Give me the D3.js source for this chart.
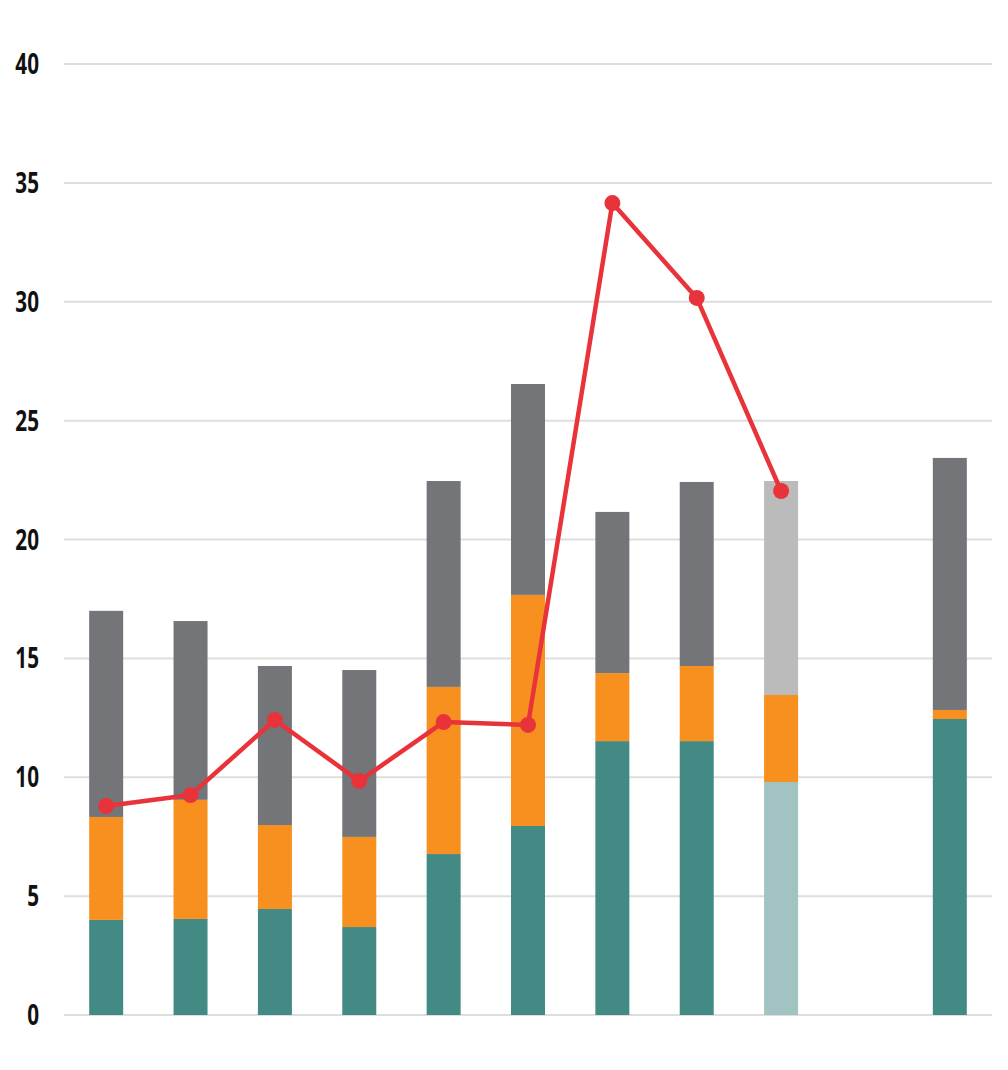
<!DOCTYPE html>
<html>
<head>
<meta charset="utf-8">
<script src="https://cdn.jsdelivr.net/npm/d3@7"></script>
<style>
  html, body { margin: 0; padding: 0; background: #ffffff; }
  svg { display: block; }
</style>
</head>
<body>
<svg id="chart" width="1008" height="1070"></svg>
<script>
// ---- data ----
const categories = ["1","2","3","4","5","6","7","8","9","10","11"];
const teal   = [4.0, 4.04, 4.46, 3.7, 6.77, 7.95, 11.52, 11.52, 9.8, null, 12.45];
const orange = [4.33, 5.01, 3.53, 3.79, 7.03, 9.72, 2.86, 3.16, 3.66, null, 0.38];
const gray   = [8.67, 7.52, 6.69, 7.02, 8.66, 8.87, 6.78, 7.74, 9.0, null, 10.6];
const projected = [false,false,false,false,false,false,false,false,true,false,false];
const lineValues = [8.79, 9.25, 12.41, 9.84, 12.32, 12.2, 34.15, 30.16, 22.04, null, null];
const yTicks = [0, 5, 10, 15, 20, 25, 30, 35, 40];

// ---- layout ----
const svg = d3.select("#chart");
const x = d3.scaleBand().domain(categories).range([64, 992]).paddingInner(0.597).paddingOuter(0.2985);
const y = d3.scaleLinear().domain([0, 40]).range([1015, 64]);

const colors = {
  teal: "#438a84", orange: "#f7901e", gray: "#737578",
  tealLight: "#a1c4c2", orangeLight: "#f7901e", grayLight: "#bbbbbb"
};

// gridlines
svg.append("g")
  .selectAll("line").data(yTicks).join("line")
  .attr("x1", 64).attr("x2", 992)
  .attr("y1", d => y(d)).attr("y2", d => y(d))
  .attr("stroke", "#dedede").attr("stroke-width", 2);

// y axis labels (condensed look via horizontal scale)
svg.append("g")
  .selectAll("g").data(yTicks).join("g")
  .attr("transform", d => `translate(39,${y(d) + 10}) scale(0.74,1)`)
  .append("text")
  .attr("text-anchor", "end")
  .attr("font-family", "'Open Sans', 'Noto Sans', sans-serif")
  .attr("font-weight", "bold")
  .attr("font-size", 28)
  .attr("fill", "#111")
  .text(d => d);

// stacked bars
const rows = categories.map((c, i) => ({cat: c, teal: teal[i], orange: orange[i], gray: gray[i], proj: projected[i]}))
  .filter(r => r.teal != null);
const stack = d3.stack().keys(["teal", "orange", "gray"]);
const series = stack(rows);

svg.append("g").selectAll("g").data(series).join("g")
  .each(function(s) {
    d3.select(this).selectAll("rect").data(s).join("rect")
      .attr("x", d => x(d.data.cat))
      .attr("width", x.bandwidth())
      .attr("y", d => y(d[1]))
      .attr("height", d => y(d[0]) - y(d[1]))
      .attr("fill", d => d.data.proj ? colors[s.key + "Light"] : colors[s.key]);
  });

// line
const pts = categories.map((c, i) => ({cat: c, v: lineValues[i]})).filter(p => p.v != null);
const line = d3.line().x(d => x(d.cat) + x.bandwidth() / 2).y(d => y(d.v));
svg.append("path").datum(pts)
  .attr("d", line)
  .attr("fill", "none")
  .attr("stroke", "#e8333a")
  .attr("stroke-width", 4.5)
  .attr("stroke-linejoin", "round");
svg.append("g").selectAll("circle").data(pts).join("circle")
  .attr("cx", d => x(d.cat) + x.bandwidth() / 2)
  .attr("cy", d => y(d.v))
  .attr("r", 8)
  .attr("fill", "#e8333a");
</script>
</body>
</html>
